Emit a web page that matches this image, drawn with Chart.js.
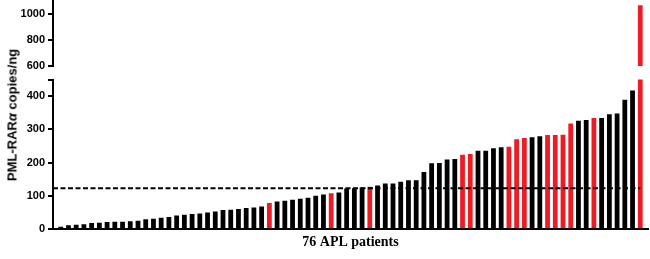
<!DOCTYPE html>
<html>
<head>
<meta charset="utf-8">
<script src="https://cdn.jsdelivr.net/npm/chart.js@4.4.1/dist/chart.umd.min.js"></script>
<style>
  html, body { margin: 0; padding: 0; background: #fff; }
  body { width: 650px; height: 259px; position: relative; overflow: hidden; }
  #top-canvas { position: absolute; left: 0; top: -10px; }
  #bottom-canvas { position: absolute; left: 0; top: 70px; }
  #y-title {
    position: absolute; left: 12px; top: 115px;
    transform: translate(-50%, -50%) rotate(-90deg);
    white-space: nowrap;
    font: bold 13px 'Liberation Sans', Arial, sans-serif;
  }
</style>
</head>
<body>
<canvas id="top-canvas" width="650" height="86"></canvas>
<canvas id="bottom-canvas" width="650" height="189"></canvas>
<div id="y-title">PML-RAR<i>α</i> copies/ng</div>

<script>
// --- Dados ---
const patients = Array.from({ length: 76 }, (_, i) => i + 1);

// PML-RARα copies/ng, um valor por paciente (ordem crescente)
const copies = [
  7, 11, 13, 14, 18, 19, 21, 22, 22, 23,
  25, 29, 31, 34, 36, 41, 43, 45, 47, 50,
  53, 57, 58, 60, 63, 65, 68, 78, 83, 85,
  88, 91, 94, 100, 104, 108, 110, 122, 123, 125,
  127, 131, 137, 137, 142, 147, 147, 172, 198, 199,
  209, 211, 224, 226, 236, 236, 243, 246, 248, 270,
  274, 276, 279, 283, 283, 284, 318, 326, 328, 334,
  334, 346, 348, 389, 417, 1070
];

// pacientes marcados em vermelho
const redPatients = [28, 36, 41, 53, 54, 59, 60, 61, 64, 65, 66, 67, 70, 76];

const cutoff = 123;

const lowTicks  = [0, 100, 200, 300, 400];
const highTicks = [600, 800, 1000];

Chart.defaults.font.family = "'Liberation Sans', Arial, sans-serif";
Chart.defaults.color = '#000';

const RED = '#ed1c24';
const BLACK = '#000000';

const barData = patients.map((p, i) => ({ x: p, y: copies[i] }));
const barColors = patients.map(p => redPatients.includes(p) ? RED : BLACK);

function yScale(min, max, ticks, capTick) {
  return {
    type: 'linear',
    min, max,
    afterBuildTicks: s => {
      const list = ticks.slice();
      if (capTick != null) list.push(capTick);
      s.ticks = list.map(v => ({ value: v }));
    },
    afterFit: s => { s.width = 53; },
    ticks: {
      padding: 3,
      font: { size: 11, weight: 'bold' },
      callback: v => ticks.includes(v) ? String(v) : ''
    },
    grid: { drawOnChartArea: false, drawTicks: true, tickLength: 5, lineWidth: 2, color: BLACK },
    border: { display: true, width: 2, color: BLACK }
  };
}

function makeChart(canvasId, opts) {
  const datasets = [{
    type: 'bar',
    data: barData,
    backgroundColor: barColors,
    borderWidth: 0,
    barPercentage: 0.62,
    categoryPercentage: 1,
    clip: 0,
    order: 1
  }];
  if (opts.showCutoff) {
    datasets.push({
      type: 'line',
      data: [{ x: 0, y: cutoff }, { x: 76, y: cutoff }],
      borderColor: BLACK,
      borderWidth: 2,
      borderDash: [5, 2.5],
      pointRadius: 0,
      fill: false,
      order: 0
    });
  }

  const xScale = {
    type: 'linear',
    min: 0, max: 77,
    offset: false,
    display: opts.showX,
    ticks: { display: false },
    grid: { display: false },
    border: { display: true, width: 2, color: BLACK },
    title: {
      display: true,
      text: '76 APL patients',
      font: { family: "'Liberation Serif', 'Times New Roman', serif", size: 14, weight: 'bold' },
      padding: { top: 6, bottom: 0 }
    }
  };
  if (opts.showX) xScale.afterFit = s => { s.height = 22; };

  return new Chart(document.getElementById(canvasId), {
    data: { datasets },
    options: {
      responsive: false,
      animation: false,
      layout: { padding: opts.padding },
      plugins: { legend: { display: false }, tooltip: { enabled: false } },
      scales: { x: xScale, y: opts.y }
    }
  });
}

// segmento de cima (600 - 1100)
makeChart('top-canvas', {
  padding: { left: 0, right: 2, top: 10, bottom: 10 },
  showX: false,
  showCutoff: false,
  y: yScale(600, 1110, highTicks, null)
});

// segmento de baixo (0 - 450)
makeChart('bottom-canvas', {
  padding: { left: 0, right: 2, top: 9, bottom: 8 },
  showX: true,
  showCutoff: true,
  y: yScale(0, 450, lowTicks, 450)
});
</script>
</body>
</html>
